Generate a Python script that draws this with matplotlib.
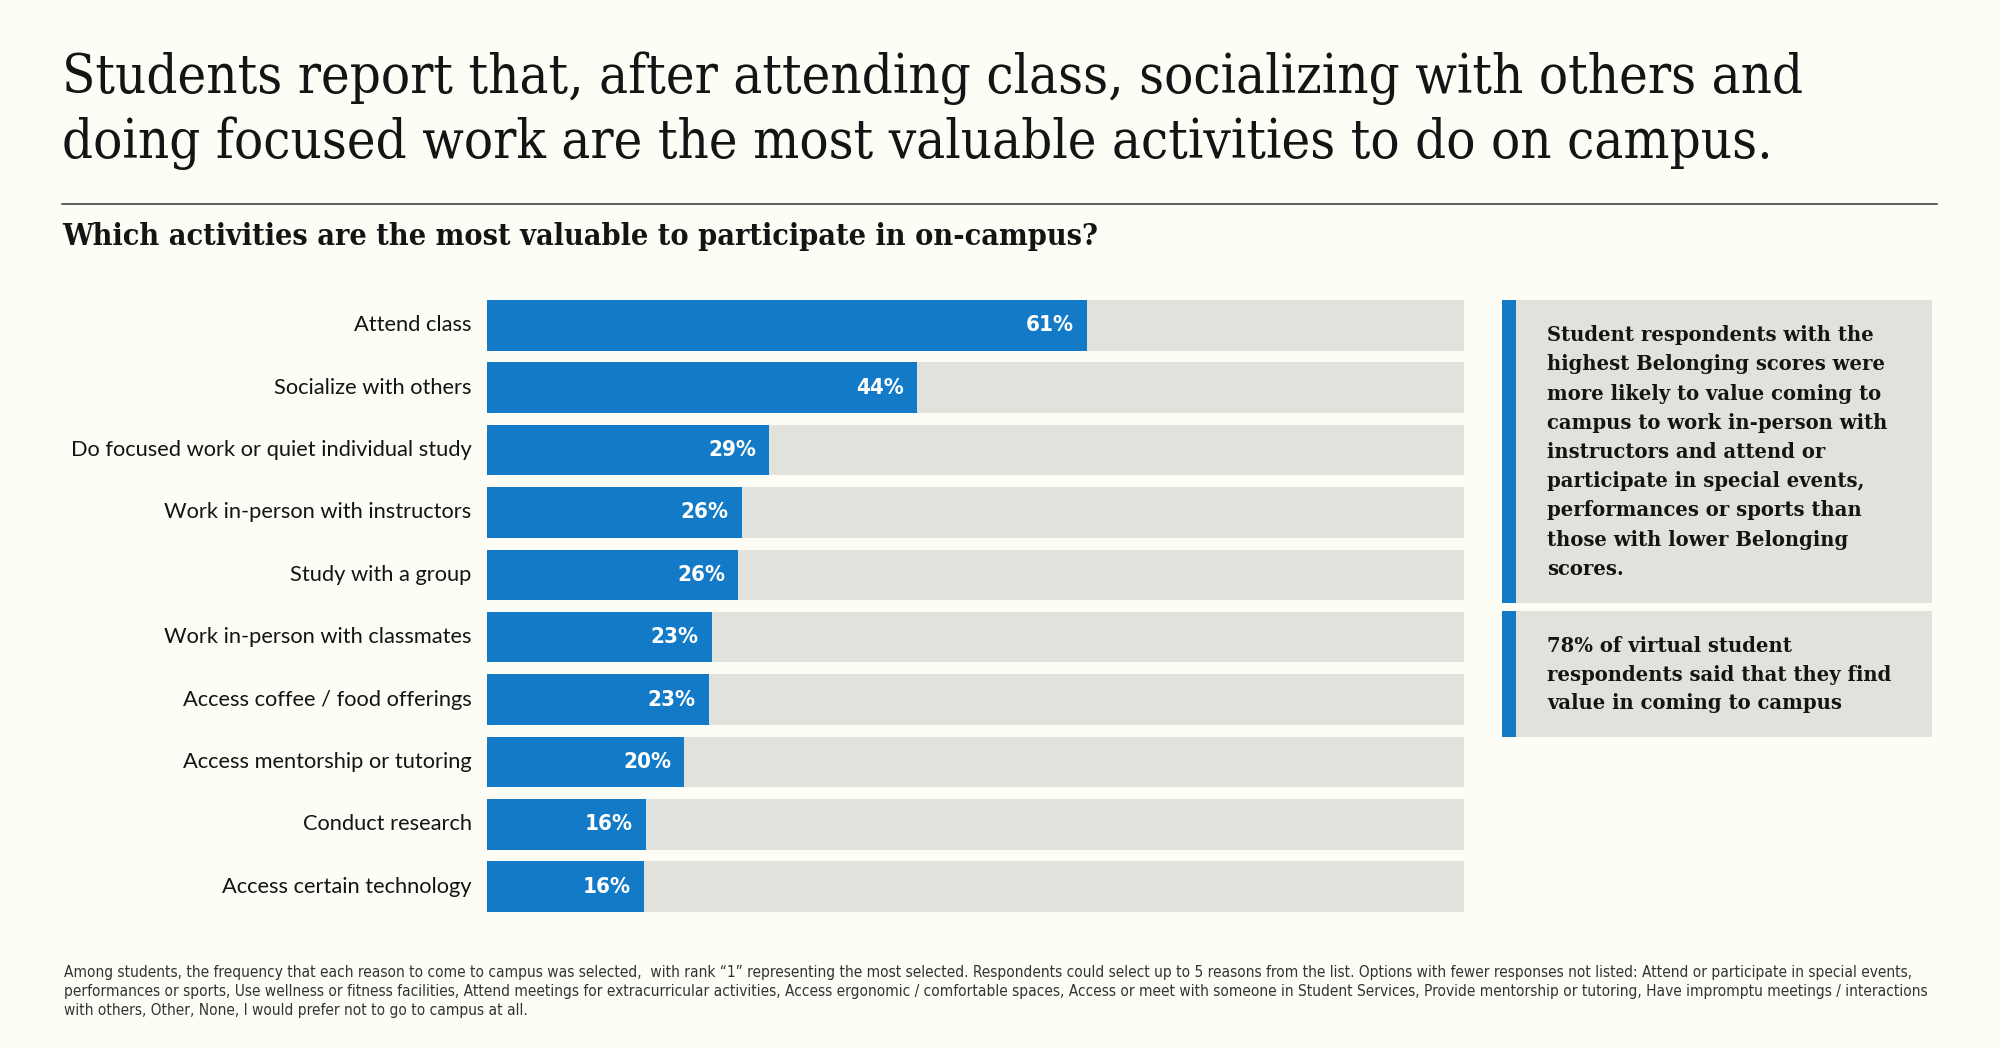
import matplotlib
matplotlib.use("Agg")
import matplotlib.pyplot as plt
from matplotlib import font_manager
from matplotlib.patches import Rectangle
from matplotlib.lines import Line2D

# data
activities = [
    "Attend class",
    "Socialize with others",
    "Do focused work or quiet individual study",
    "Work in-person with instructors",
    "Study with a group",
    "Work in-person with classmates",
    "Access coffee / food offerings",
    "Access mentorship or tutoring",
    "Conduct research",
    "Access certain technology",
]
shares = [61.4, 44.0, 28.9, 26.1, 25.7, 23.0, 22.7, 20.2, 16.3, 16.1]
scale_max = 100

title_lines = [
    "Students report that, after attending class, socializing with others and",
    "doing focused work are the most valuable activities to do on campus.",
]
subtitle = "Which activities are the most valuable to participate in on-campus?"
box1_lines = [
    "Student respondents with the",
    "highest Belonging scores were",
    "more likely to value coming to",
    "campus to work in-person with",
    "instructors and attend or",
    "participate in special events,",
    "performances or sports than",
    "those with lower Belonging",
    "scores.",
]
box2_lines = [
    "78% of virtual student",
    "respondents said that they find",
    "value in coming to campus",
]
note_lines = [
    "Among students, the frequency that each reason to come to campus was selected,  with rank \u201c1\u201d representing the most selected. "
    "Respondents could select up to 5 reasons from the list. Options with fewer responses not listed: Attend or participate in special events,",
    "performances or sports, Use wellness or fitness facilities, Attend meetings for extracurricular activities, Access ergonomic / comfortable "
    "spaces, Access or meet with someone in Student Services, Provide mentorship or tutoring, Have impromptu meetings / interactions",
    "with others, Other, None, I would prefer not to go to campus at all.",
]

BG = "#FDFDF6"
BLUE = "#127AC6"
GRAY = "#E2E2DD"
INK = "#141414"

W, H = 2000, 1049
fig = plt.figure(figsize=(W / 100, H / 100), dpi=100, facecolor=BG)


def fx(x):
    return x / W


def fy(y):
    return 1 - y / H


fonts = font_manager.fontManager.ttflist


def has(name, stretch=None):
    return any(f.name == name and (stretch is None or f.stretch == stretch) for f in fonts)


# pick fonts that exist
if has("DejaVu Serif", "condensed"):
    serif = dict(family="DejaVu Serif", fontstretch="condensed")
else:
    serif = dict(family="Liberation Serif")
if has("Liberation Sans Narrow"):
    narrow = dict(family="Liberation Sans Narrow")
elif has("DejaVu Sans", "condensed"):
    narrow = dict(family="DejaVu Sans", fontstretch="condensed")
else:
    narrow = dict(family="Open Sans")
label_font = dict(family="Lato")


def fit(texts, width_px):
    r = fig.canvas.get_renderer()
    widest = max(t.get_window_extent(r).width for t in texts)
    k = width_px / widest
    for t in texts:
        t.set_fontsize(t.get_fontsize() * k)


# bars
n = len(activities)
ax = fig.add_axes([fx(487), fy(912), (1464 - 487) / W, (912 - 300) / H])
ypos = list(range(n))
ax.barh(ypos, [scale_max] * n, height=0.81, color=GRAY)
ax.barh(ypos, shares, height=0.81, color=BLUE)
ax.set_xlim(0, scale_max)
ax.set_ylim(n - 1 + 0.405, -0.405)
ax.axis("off")

labels = []
values = []
for i, (name, v) in enumerate(zip(activities, shares)):
    labels.append(ax.annotate(name, xy=(0, i), xytext=(-11, 0), textcoords="offset points",
                              ha="right", va="center", color=INK, fontsize=14, **label_font))
    values.append(ax.annotate(f"{v:.0f}%", xy=(v, i), xytext=(-9.5, 0), textcoords="offset points",
                              ha="right", va="center", color="white", fontsize=14,
                              fontweight="bold", **narrow))
fig.canvas.draw()
fit(labels, 404)
fit([values[0]], 48)
for t in values[1:]:
    t.set_fontsize(values[0].get_fontsize())

# title and subtitle
t1 = fig.text(fx(62), fy(93), title_lines[0], va="baseline", color=INK, fontsize=40, **serif)
t2 = fig.text(fx(62), fy(158), title_lines[1], va="baseline", color=INK, fontsize=40, **serif)
fit([t1], 1739)
t2.set_fontsize(t1.get_fontsize())
fig.add_artist(Line2D([fx(62), fx(1937)], [fy(204), fy(204)], color="#333333", lw=1.1))
st = fig.text(fx(62), fy(245), subtitle, va="baseline", color=INK, fontsize=20,
              fontweight="bold", **serif)
fit([st], 1037)

# side boxes
for top, bottom in [(300, 603), (611, 737)]:
    fig.add_artist(Rectangle((fx(1502), fy(bottom)), (1932 - 1502) / W, (bottom - top) / H,
                             transform=fig.transFigure, color=GRAY, lw=0))
    fig.add_artist(Rectangle((fx(1502), fy(bottom)), 14 / W, (bottom - top) / H,
                             transform=fig.transFigure, color=BLUE, lw=0))
box_texts = []
for k, line in enumerate(box1_lines):
    box_texts.append(fig.text(fx(1547), fy(341 + 29.25 * k), line, va="baseline", color=INK,
                              fontsize=14, fontweight="bold", family="DejaVu Serif"))
for k, line in enumerate(box2_lines):
    box_texts.append(fig.text(fx(1547), fy(652 + 28.6 * k), line, va="baseline", color=INK,
                              fontsize=14, fontweight="bold", family="DejaVu Serif"))
fit(box_texts, 344)

# footnote
notes = [fig.text(fx(64), fy(977 + 19 * k), line, va="baseline", color="#333333",
                  fontsize=10, **narrow) for k, line in enumerate(note_lines)]
fit(notes, 1861)

fig.savefig("out.png", dpi=100, facecolor=BG)
